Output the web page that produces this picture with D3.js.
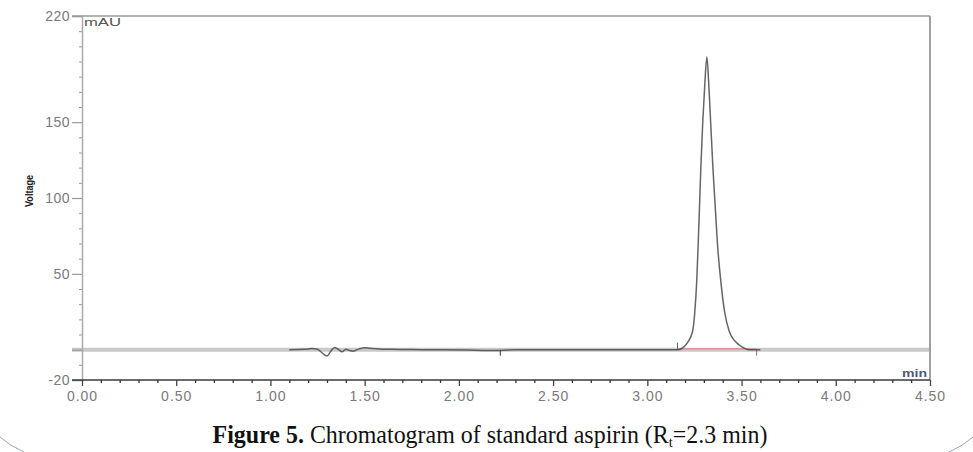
<!DOCTYPE html>
<html>
<head>
<meta charset="utf-8">
<script src="https://cdn.jsdelivr.net/npm/d3@7"></script>
<style>
  html, body { margin: 0; padding: 0; background: #fff; }
  svg { display: block; }
</style>
</head>
<body>
<svg id="chart" width="973" height="452"></svg>
<script>
// ---- data ----
const timeMin = [0.00, 1.10, 1.18, 1.22, 1.25, 1.28, 1.30, 1.32, 1.34, 1.36, 1.38, 1.40, 1.42, 1.44, 1.47, 1.50, 1.53, 1.58, 1.65, 1.80, 2.05, 2.15, 2.22, 2.30, 3.10,
  3.165, 3.195, 3.215, 3.240, 3.252, 3.262, 3.270, 3.277, 3.284, 3.294, 3.305, 3.316, 3.326, 3.336, 3.348, 3.360, 3.372, 3.390, 3.410, 3.435, 3.470, 3.500, 3.540, 3.600, 4.50];
const signalMAU = [0, 0, 0.2, 0.8, 0.3, -2.8, -4.2, -1.0, 1.4, 0.2, -1.4, 0.3, -0.6, -1.0, 0.5, 1.3, 1.0, 0.5, 0.2, 0, -0.3, -0.5, -0.5, 0, 0,
  0, 2, 5, 12, 25, 45, 70, 95, 120, 150, 175, 193, 175, 150, 120, 95, 70, 45, 25, 12, 5, 2, 0, 0, 0];
const integrationStart = 3.16, integrationEnd = 3.58, integrationLevel = 0.5;
const eventMarks = [2.22];
const xTickValues = [0, 0.5, 1, 1.5, 2, 2.5, 3, 3.5, 4, 4.5];
const xTickLabels = ["0.00", "0.50", "1.00", "1.50", "2.00", "2.50", "3.00", "3.50", "4.00", "4.50"];
const yTickValues = [-20, 0, 50, 100, 150, 220];
const yTickLabels = ["-20", "", "50", "100", "150", "220"];
const yUnit = "mAU", xUnit = "min", yTitle = "Voltage";

// ---- layout ----
const svg = d3.select("#chart");
const x = d3.scaleLinear().domain([0, 4.5]).range([82, 930]);
const y = d3.scaleLinear().domain([-20, 220]).range([380, 16]);
const points = timeMin.map((t, i) => ({ t, v: signalMAU[i] }));

// baseline band at 0
svg.append("line")
  .attr("x1", 72).attr("x2", x(4.5))
  .attr("y1", y(0)).attr("y2", y(0))
  .attr("stroke", "#c9c9c9").attr("stroke-width", 4);

// frame top and right
svg.append("line").attr("x1", 72).attr("x2", x(4.5)).attr("y1", y(220)).attr("y2", y(220))
  .attr("stroke", "#b3b3b3").attr("stroke-width", 2);
svg.append("line").attr("x1", x(4.5)).attr("x2", x(4.5)).attr("y1", y(220)).attr("y2", y(-20))
  .attr("stroke", "#a0a0a0").attr("stroke-width", 2);

// y axis
const yMinor = d3.range(-10, 220, 10).filter(v => ![0, 50, 100, 150].includes(v));
svg.append("g").attr("transform", `translate(${x(0)},0)`)
  .call(d3.axisLeft(y).tickValues(yMinor).tickSize(3).tickFormat(""))
  .call(g => g.select(".domain").remove())
  .call(g => g.selectAll("line").attr("stroke", "#999"));
const yAxis = svg.append("g").attr("transform", `translate(${x(0)},0)`)
  .call(d3.axisLeft(y).tickValues(yTickValues).tickSize(10).tickPadding(2)
    .tickFormat((d, i) => yTickLabels[i]));
yAxis.select(".domain").attr("stroke", "#aaa").attr("stroke-width", 1.5);
yAxis.selectAll(".tick line").attr("stroke", "#999").attr("stroke-width", 1.2);
yAxis.selectAll(".tick text").attr("fill", "#7a7a7a")
  .style("font-family", "'Liberation Sans', Arial, sans-serif").style("font-size", "14px")
  .style("letter-spacing", "0.5px");

// x axis
const xMinor = d3.range(0.1, 4.5, 0.1).filter(v => Math.abs(v * 2 - Math.round(v * 2)) > 1e-6);
svg.append("g").attr("transform", `translate(0,${y(-20)})`)
  .call(d3.axisBottom(x).tickValues(xMinor).tickSize(3).tickFormat(""))
  .call(g => g.select(".domain").remove())
  .call(g => g.selectAll("line").attr("stroke", "#333").attr("stroke-width", 1.3));
const xAxis = svg.append("g").attr("transform", `translate(0,${y(-20)})`)
  .call(d3.axisBottom(x).tickValues(xTickValues).tickSize(6).tickPadding(5)
    .tickFormat((d, i) => xTickLabels[i]));
xAxis.select(".domain").attr("stroke", "#3a3a3a").attr("stroke-width", 1.6)
  .attr("d", `M72,0H${x(4.5)}`);
xAxis.selectAll(".tick line").attr("stroke", "#444").attr("stroke-width", 1.3);
xAxis.selectAll(".tick text").attr("fill", "#7a7a7a")
  .style("font-family", "'Liberation Sans', Arial, sans-serif").style("font-size", "14px")
  .style("letter-spacing", "1px");

// integration baseline
svg.append("line")
  .attr("x1", x(integrationStart)).attr("x2", x(integrationEnd))
  .attr("y1", y(integrationLevel)).attr("y2", y(integrationLevel))
  .attr("stroke", "#e08a8a").attr("stroke-width", 1.2);
svg.append("line").attr("x1", x(integrationStart)).attr("x2", x(integrationStart))
  .attr("y1", y(0) - 7).attr("y2", y(0)).attr("stroke", "#666").attr("stroke-width", 1);
svg.append("line").attr("x1", x(integrationEnd)).attr("x2", x(integrationEnd))
  .attr("y1", y(0)).attr("y2", y(0) + 6).attr("stroke", "#777").attr("stroke-width", 1);
eventMarks.forEach(t => {
  svg.append("line").attr("x1", x(t)).attr("x2", x(t))
    .attr("y1", y(0)).attr("y2", y(0) + 6).attr("stroke", "#555").attr("stroke-width", 1.2);
});

// signal trace (drawn over the baseline band in the active window)
const line = d3.line().x(d => x(d.t)).y(d => y(d.v)).curve(d3.curveMonotoneX);
svg.append("path")
  .datum(points.filter(d => d.t >= 1.1 && d.t <= 3.6))
  .attr("d", line)
  .attr("fill", "none").attr("stroke", "#4a4a4a").attr("stroke-width", 1.5)
  .attr("stroke-opacity", 0.85);

// unit labels
svg.append("text").attr("x", 84).attr("y", 26).text(yUnit)
  .attr("textLength", 37).attr("lengthAdjust", "spacingAndGlyphs")
  .attr("fill", "#555").style("font-family", "'Liberation Sans', Arial, sans-serif")
  .style("font-size", "11px");
svg.append("text").attr("x", 902).attr("y", 377).text(xUnit)
  .attr("textLength", 25).attr("lengthAdjust", "spacingAndGlyphs")
  .attr("fill", "#4a5a7a").style("font-family", "'Liberation Sans', Arial, sans-serif")
  .style("font-size", "10px").style("font-weight", "bold");
svg.append("text").attr("transform", "translate(33,207) rotate(-90)")
  .text(yTitle).attr("textLength", 32).attr("lengthAdjust", "spacingAndGlyphs")
  .attr("fill", "#222").style("font-family", "'Liberation Sans', Arial, sans-serif")
  .style("font-size", "11px").style("font-weight", "bold");

// caption
const cap = svg.append("text").attr("x", 490).attr("y", 443).attr("text-anchor", "middle")
  .attr("fill", "#111").style("font-family", "'Liberation Serif', 'Times New Roman', serif")
  .style("font-size", "25px");
cap.append("tspan").style("font-weight", "bold").text("Figure 5.");
cap.append("tspan").text(" Chromatogram of standard aspirin (R");
cap.append("tspan").attr("dy", 4).style("font-size", "15px").text("t");
cap.append("tspan").attr("dy", -4).text("=2.3 min)");
const capW = cap.node().getBBox().width;
cap.attr("transform", `translate(490,0) scale(${555 / capW},1) translate(-490,0)`);

// page corner arcs
svg.append("path").attr("d", "M0,437 Q10,446 24,452")
  .attr("fill", "none").attr("stroke", "#9aa3b5").attr("stroke-width", 1);
svg.append("path").attr("d", "M949,452 Q963,446 973,437")
  .attr("fill", "none").attr("stroke", "#9aa3b5").attr("stroke-width", 1);
</script>
</body>
</html>
